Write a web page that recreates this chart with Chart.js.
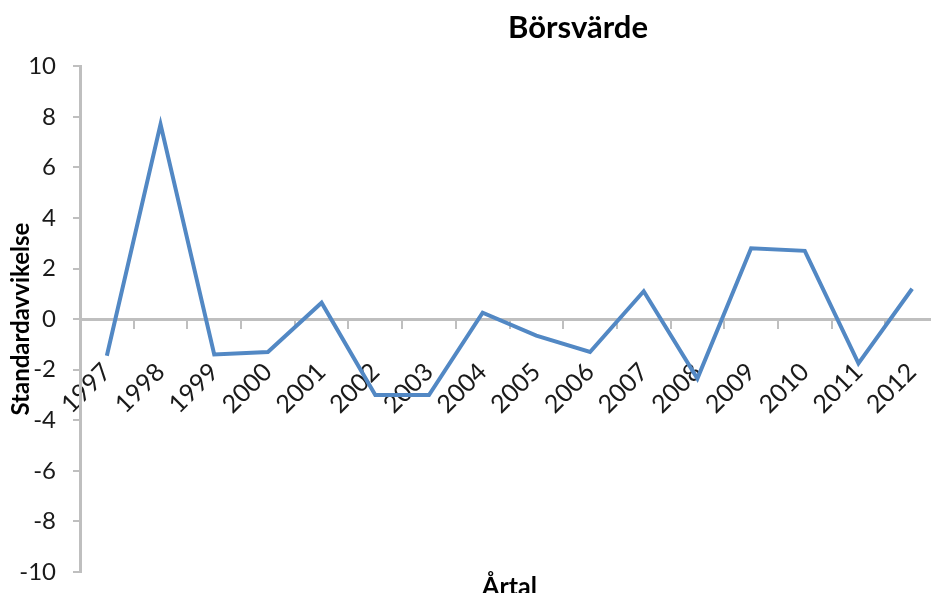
<!DOCTYPE html>
<html>
<head>
<meta charset="utf-8">
<script src="https://cdn.jsdelivr.net/npm/chart.js@4/dist/chart.umd.min.js"></script>
<style>
  html, body { margin: 0; padding: 0; background: #fff; overflow: hidden; }
</style>
</head>
<body>
<canvas id="borsvarde" width="1156" height="610"></canvas>
<script>
// Årtal och standardavvikelse för börsvärdet
const artal = ['1997', '1998', '1999', '2000', '2001', '2002', '2003', '2004',
               '2005', '2006', '2007', '2008', '2009', '2010', '2011', '2012'];
const standardavvikelse = [-1.45, 7.7, -1.4, -1.3, 0.65, -3.0, -3.0, 0.25,
                           -0.65, -1.3, 1.1, -2.35, 2.8, 2.7, -1.75, 1.2];
const yMin = -10;
const yMax = 10;
const ySteg = 2;

const grå = '#bfbfbf';
const typsnitt = 'Lato, "Open Sans", sans-serif';

const canvas = document.getElementById('borsvarde');
new Chart(canvas, {
  type: 'line',
  data: {
    labels: artal,
    datasets: [{
      label: 'Börsvärde',
      data: standardavvikelse,
      borderColor: '#5288c4',
      borderWidth: 4,
      pointRadius: 0,
      tension: 0,
      fill: false
    }]
  },
  options: {
    responsive: false,
    animation: false,
    layout: { padding: 0 },
    plugins: {
      legend: { display: false },
      tooltip: { enabled: false },
      title: {
        display: true,
        text: 'Börsvärde',
        color: '#000',
        font: { family: typsnitt, size: 31, weight: 'bold' },
        padding: { top: 9, bottom: 20 }
      },
      subtitle: {
        display: true,
        text: 'Årtal',
        position: 'bottom',
        fullSize: false,
        color: '#000',
        font: { family: typsnitt, size: 25, weight: 'bold' },
        padding: { top: 0, bottom: 8 }
      }
    },
    scales: {
      x: {
        type: 'category',
        position: { y: 0 },
        offset: true,
        grid: {
          offset: true,
          drawOnChartArea: false,
          drawTicks: true,
          tickLength: 8,
          color: grå,
          lineWidth: 2
        },
        border: { display: true, color: grå, width: 3 },
        ticks: {
          autoSkip: false,
          minRotation: 45,
          maxRotation: 45,
          padding: 30,
          color: '#1a1a1a',
          font: { family: typsnitt, size: 25 }
        }
      },
      y: {
        min: yMin,
        max: yMax,
        afterFit: (skala) => { skala.width = 80; },
        grid: {
          drawOnChartArea: false,
          drawTicks: true,
          tickLength: 7,
          color: grå,
          lineWidth: 2
        },
        border: { display: true, color: grå, width: 3 },
        ticks: {
          stepSize: ySteg,
          padding: 17,
          color: '#1a1a1a',
          font: { family: typsnitt, size: 24 }
        },
        title: {
          display: true,
          text: 'Standardavvikelse',
          color: '#000',
          font: { family: typsnitt, size: 24, weight: 'bold' },
          padding: { top: 7, bottom: 0 }
        }
      },
      // tom yta till höger om diagrammet (där förklaringen låg)
      hoger: {
        type: 'linear',
        position: 'right',
        afterFit: (skala) => { skala.width = 217; },
        grid: { display: false },
        border: { display: false },
        ticks: { display: false }
      }
    }
  }
});
</script>
</body>
</html>
